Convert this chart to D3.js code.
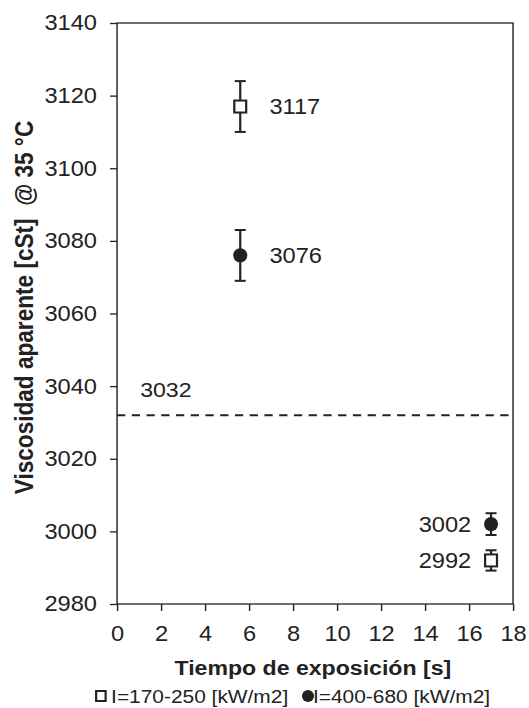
<!DOCTYPE html>
<html>
<head>
<meta charset="utf-8">
<script src="https://cdn.jsdelivr.net/npm/d3@7"></script>
<style>
  body { margin: 0; background: #fff; }
  text { font-family: "Liberation Sans", Arial, sans-serif; fill: #222; }
</style>
</head>
<body>
<div id="chart"></div>
<script>
// data
const seriesNames = ["I=170-250 [kW/m2]", "I=400-680 [kW/m2]"];
const timeS = [5.6, 17];
const lowValues = [3117, 2992];
const lowErr = [7, 2.8];
const highValues = [3076, 3002];
const highErr = [7, 3];
const refValue = 3032;
const xTicks = [0, 2, 4, 6, 8, 10, 12, 14, 16, 18];
const yTicks = [2980, 3000, 3020, 3040, 3060, 3080, 3100, 3120, 3140];

// original picture is a bit wider than tall, so stretch x
const sx = 1.1;
const W = 529, H = 708;
const margin = { top: 23, left: 106.4 };
const width = 360;
const height = 581;

const root = d3.select("#chart")
  .append("svg")
  .attr("width", W)
  .attr("height", H)
  .append("g")
  .attr("transform", `scale(${sx},1)`);

const svg = root.append("g")
  .attr("transform", `translate(${margin.left},${margin.top})`);

const x = d3.scaleLinear().domain([0, 18]).range([0, width]);
const y = d3.scaleLinear().domain([2980, 3140]).range([height, 0]);

const points = [
  ...timeS.map((t, i) => ({ s: 0, t, v: lowValues[i], e: lowErr[i] })),
  ...timeS.map((t, i) => ({ s: 1, t, v: highValues[i], e: highErr[i] }))
];

// axes
const xAxis = svg.append("g")
  .attr("transform", `translate(0,${height})`)
  .call(d3.axisBottom(x).tickValues(xTicks).tickSize(7).tickSizeOuter(0).tickPadding(15));
const yAxis = svg.append("g")
  .call(d3.axisLeft(y).tickValues(yTicks).tickFormat(d3.format("d"))
    .tickSize(6.4).tickSizeOuter(0).tickPadding(11.8));

[xAxis, yAxis].forEach(a => {
  a.select(".domain").remove();
  a.selectAll("line").attr("stroke", "#222").attr("stroke-width", 1.3);
  a.selectAll("text")
    .style("font-family", '"Liberation Sans", Arial, sans-serif')
    .style("font-size", "21.5px")
    .attr("fill", "#222");
});

// frame
svg.append("rect")
  .attr("x", 0).attr("y", 0)
  .attr("width", width).attr("height", height)
  .attr("fill", "none")
  .attr("stroke", "#222")
  .attr("stroke-width", 1.3);

// reference line
svg.append("line")
  .attr("x1", x(0)).attr("x2", x(18))
  .attr("y1", y(refValue)).attr("y2", y(refValue))
  .attr("stroke", "#222")
  .attr("stroke-width", 2)
  .attr("stroke-dasharray", "7.5,5.9");

svg.append("text")
  .attr("x", x(0) + 21)
  .attr("y", y(refValue) - 18)
  .style("font-size", "21px")
  .text(refValue);

// error bars
const bars = svg.selectAll(".err")
  .data(points)
  .enter().append("g")
  .attr("class", "err")
  .attr("stroke", "#222")
  .attr("stroke-width", 2);

bars.append("line")
  .attr("x1", d => x(d.t)).attr("x2", d => x(d.t))
  .attr("y1", d => y(d.v - d.e)).attr("y2", d => y(d.v + d.e));
bars.append("line")
  .attr("x1", d => x(d.t) - 5).attr("x2", d => x(d.t) + 5)
  .attr("y1", d => y(d.v + d.e)).attr("y2", d => y(d.v + d.e));
bars.append("line")
  .attr("x1", d => x(d.t) - 5).attr("x2", d => x(d.t) + 5)
  .attr("y1", d => y(d.v - d.e)).attr("y2", d => y(d.v - d.e));

// markers
svg.selectAll(".sq")
  .data(points.filter(d => d.s === 0))
  .enter().append("rect")
  .attr("class", "sq")
  .attr("x", d => x(d.t) - 5.4)
  .attr("y", d => y(d.v) - 6)
  .attr("width", 10.8)
  .attr("height", 12)
  .attr("fill", "#fff")
  .attr("stroke", "#222")
  .attr("stroke-width", 2);

svg.selectAll(".dot")
  .data(points.filter(d => d.s === 1))
  .enter().append("ellipse")
  .attr("class", "dot")
  .attr("cx", d => x(d.t))
  .attr("cy", d => y(d.v))
  .attr("rx", 6.4)
  .attr("ry", 7.2)
  .attr("fill", "#222");

// value labels: right of the point for early time, left for late time
svg.selectAll(".val")
  .data(points)
  .enter().append("text")
  .attr("class", "val")
  .attr("x", d => d.t < 10 ? x(d.t) + 26.5 : x(d.t) - 18)
  .attr("y", d => y(d.v))
  .attr("dy", "0.36em")
  .attr("text-anchor", d => d.t < 10 ? "start" : "end")
  .style("font-size", "21.5px")
  .text(d => d.v);

// axis titles
root.append("text")
  .attr("x", margin.left + width / 2 - 2)
  .attr("y", 675)
  .attr("text-anchor", "middle")
  .style("font-size", "21px")
  .style("font-weight", "bold")
  .text("Tiempo de exposición [s]");

root.append("text")
  .attr("transform", `translate(30,${307.5}) rotate(-90)`)
  .attr("text-anchor", "middle")
  .style("font-size", "22.6px")
  .style("font-weight", "bold")
  .style("white-space", "pre")
  .text("Viscosidad aparente [cSt]  @ 35 °C");

// legend
const legend = root.append("g");
legend.append("rect")
  .attr("x", 87.4).attr("y", 691)
  .attr("width", 8.6).attr("height", 10)
  .attr("fill", "#fff")
  .attr("stroke", "#222")
  .attr("stroke-width", 2);
legend.append("text")
  .attr("x", 101)
  .attr("y", 703)
  .style("font-size", "19px")
  .text(seriesNames[0]);
legend.append("ellipse")
  .attr("cx", 280).attr("cy", 696)
  .attr("rx", 5.5).attr("ry", 6)
  .attr("fill", "#222");
legend.append("text")
  .attr("x", 284.5)
  .attr("y", 703)
  .style("font-size", "19px")
  .text(seriesNames[1]);
</script>
</body>
</html>
